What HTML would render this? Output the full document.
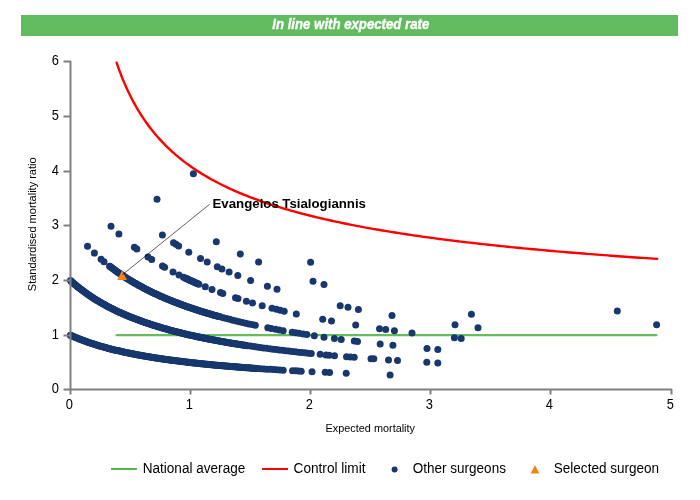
<!DOCTYPE html>
<html><head><meta charset="utf-8"><title>In line with expected rate</title>
<style>
html,body{margin:0;padding:0;background:#fff;}
body{width:700px;height:500px;overflow:hidden;position:relative;font-family:"Liberation Sans",Arial,sans-serif;}
svg{position:absolute;left:0;top:0;display:block;}
text{font-family:"Liberation Sans",Arial,sans-serif;}
</style></head><body>
<svg width="700" height="500" viewBox="0 0 700 500">
<rect x="0" y="0" width="700" height="500" fill="#ffffff"/>
<rect x="21" y="15" width="657" height="21" fill="#62bb5e"/>
<text x="272.3" y="29.3" font-size="14.1" font-weight="bold" font-style="italic" fill="#ffffff" stroke="#ffffff" stroke-width="0.35" textLength="157" lengthAdjust="spacingAndGlyphs">In line with expected rate</text>

<path d="M116.6,335.15 L656.4,335.15" stroke="#66be5b" stroke-width="2.3" stroke-linecap="round" fill="none"/>
<path d="M116.59,62.55 L116.68,62.80 L116.85,63.30 L117.08,63.98 L117.36,64.80 L117.70,65.76 L118.07,66.82 L118.48,67.98 L118.93,69.22 L119.42,70.55 L119.94,71.94 L120.49,73.40 L121.07,74.91 L121.68,76.47 L122.32,78.08 L122.99,79.72 L123.69,81.40 L124.41,83.11 L125.16,84.84 L125.94,86.60 L126.74,88.37 L127.56,90.16 L128.41,91.96 L129.28,93.77 L130.17,95.59 L131.09,97.41 L132.03,99.23 L132.99,101.05 L133.97,102.87 L134.97,104.69 L136.00,106.50 L137.04,108.30 L138.11,110.10 L139.19,111.89 L140.30,113.66 L141.43,115.43 L142.57,117.18 L143.74,118.93 L144.92,120.65 L146.12,122.37 L147.34,124.06 L148.58,125.75 L149.84,127.41 L151.11,129.07 L152.41,130.70 L153.72,132.32 L155.05,133.92 L156.39,135.51 L157.76,137.07 L159.14,138.62 L160.54,140.16 L161.95,141.67 L163.38,143.17 L164.83,144.65 L166.29,146.11 L167.77,147.56 L169.27,148.99 L170.78,150.40 L172.31,151.79 L173.86,153.17 L175.42,154.53 L177.00,155.87 L178.59,157.20 L180.20,158.51 L181.82,159.80 L183.46,161.08 L185.11,162.34 L186.78,163.59 L188.46,164.82 L190.16,166.03 L191.88,167.23 L193.60,168.42 L195.35,169.59 L197.10,170.74 L198.88,171.88 L200.66,173.01 L202.46,174.12 L204.28,175.21 L206.11,176.30 L207.95,177.37 L209.81,178.42 L211.68,179.47 L213.56,180.50 L215.46,181.52 L217.38,182.52 L219.30,183.51 L221.24,184.49 L223.20,185.46 L225.16,186.42 L227.14,187.36 L229.14,188.30 L231.15,189.22 L233.17,190.13 L235.20,191.03 L237.25,191.92 L239.31,192.79 L241.38,193.66 L243.47,194.52 L245.57,195.36 L247.68,196.20 L249.80,197.03 L251.94,197.85 L254.09,198.65 L256.26,199.45 L258.43,200.24 L260.62,201.02 L262.82,201.79 L265.03,202.55 L267.26,203.31 L269.50,204.05 L271.75,204.79 L274.01,205.51 L276.29,206.23 L278.57,206.95 L280.87,207.65 L283.19,208.35 L285.51,209.03 L287.85,209.71 L290.19,210.39 L292.55,211.05 L294.93,211.71 L297.31,212.36 L299.71,213.01 L302.11,213.64 L304.53,214.27 L306.96,214.90 L309.41,215.52 L311.86,216.13 L314.33,216.73 L316.80,217.33 L319.29,217.92 L321.79,218.51 L324.30,219.09 L326.83,219.66 L329.36,220.23 L331.91,220.79 L334.47,221.35 L337.04,221.90 L339.62,222.44 L342.21,222.98 L344.81,223.52 L347.42,224.04 L350.05,224.57 L352.68,225.09 L355.33,225.60 L357.99,226.11 L360.66,226.61 L363.34,227.11 L366.03,227.60 L368.73,228.09 L371.45,228.58 L374.17,229.06 L376.90,229.53 L379.65,230.00 L382.41,230.47 L385.17,230.93 L387.95,231.39 L390.74,231.84 L393.54,232.29 L396.35,232.74 L399.17,233.18 L402.00,233.62 L404.84,234.05 L407.69,234.48 L410.56,234.90 L413.43,235.33 L416.31,235.74 L419.21,236.16 L422.11,236.57 L425.03,236.98 L427.95,237.38 L430.89,237.78 L433.83,238.17 L436.79,238.57 L439.76,238.96 L442.73,239.34 L445.72,239.73 L448.72,240.11 L451.72,240.48 L454.74,240.86 L457.77,241.23 L460.81,241.59 L463.85,241.96 L466.91,242.32 L469.98,242.67 L473.06,243.03 L476.15,243.38 L479.24,243.73 L482.35,244.08 L485.47,244.42 L488.60,244.76 L491.74,245.10 L494.88,245.43 L498.04,245.77 L501.21,246.10 L504.38,246.42 L507.57,246.75 L510.77,247.07 L513.97,247.39 L517.19,247.71 L520.42,248.02 L523.65,248.33 L526.90,248.64 L530.15,248.95 L533.42,249.26 L536.69,249.56 L539.97,249.86 L543.27,250.16 L546.57,250.45 L549.88,250.75 L553.20,251.04 L556.53,251.33 L559.88,251.62 L563.23,251.90 L566.59,252.18 L569.95,252.47 L573.33,252.74 L576.72,253.02 L580.12,253.30 L583.53,253.57 L586.94,253.84 L590.37,254.11 L593.80,254.38 L597.25,254.64 L600.70,254.90 L604.16,255.17 L607.63,255.42 L611.11,255.68 L614.60,255.94 L618.10,256.19 L621.61,256.44 L625.13,256.70 L628.66,256.94 L632.19,257.19 L635.74,257.44 L639.29,257.68 L642.86,257.92 L646.43,258.16 L650.01,258.40 L653.60,258.64 L657.20,258.87" stroke="#ff0000" stroke-width="2.4" fill="none" stroke-linejoin="round" stroke-linecap="round"/>
<g fill="#17376e"><circle cx="70.5" cy="335.23" r="3.5"/><circle cx="70.6" cy="335.28" r="3.5"/><circle cx="71.6" cy="335.73" r="3.5"/><circle cx="72.6" cy="336.17" r="3.5"/><circle cx="73.6" cy="336.61" r="3.5"/><circle cx="74.6" cy="337.04" r="3.5"/><circle cx="75.6" cy="337.46" r="3.5"/><circle cx="76.6" cy="337.87" r="3.5"/><circle cx="77.6" cy="338.28" r="3.5"/><circle cx="78.6" cy="338.68" r="3.5"/><circle cx="79.6" cy="339.08" r="3.5"/><circle cx="80.6" cy="339.47" r="3.5"/><circle cx="81.6" cy="339.85" r="3.5"/><circle cx="82.6" cy="340.23" r="3.5"/><circle cx="83.6" cy="340.61" r="3.5"/><circle cx="84.6" cy="340.97" r="3.5"/><circle cx="85.6" cy="341.33" r="3.5"/><circle cx="86.6" cy="341.69" r="3.5"/><circle cx="87.6" cy="342.04" r="3.5"/><circle cx="88.6" cy="342.39" r="3.5"/><circle cx="89.6" cy="342.73" r="3.5"/><circle cx="90.6" cy="343.07" r="3.5"/><circle cx="91.6" cy="343.40" r="3.5"/><circle cx="92.6" cy="343.72" r="3.5"/><circle cx="93.6" cy="344.05" r="3.5"/><circle cx="94.6" cy="344.36" r="3.5"/><circle cx="95.6" cy="344.68" r="3.5"/><circle cx="96.6" cy="344.99" r="3.5"/><circle cx="97.6" cy="345.29" r="3.5"/><circle cx="98.6" cy="345.59" r="3.5"/><circle cx="99.6" cy="345.89" r="3.5"/><circle cx="100.6" cy="346.18" r="3.5"/><circle cx="101.6" cy="346.47" r="3.5"/><circle cx="102.6" cy="346.76" r="3.5"/><circle cx="103.6" cy="347.04" r="3.5"/><circle cx="104.6" cy="347.31" r="3.5"/><circle cx="105.6" cy="347.59" r="3.5"/><circle cx="106.6" cy="347.86" r="3.5"/><circle cx="107.6" cy="348.13" r="3.5"/><circle cx="108.6" cy="348.39" r="3.5"/><circle cx="109.6" cy="348.65" r="3.5"/><circle cx="110.6" cy="348.91" r="3.5"/><circle cx="111.6" cy="349.16" r="3.5"/><circle cx="112.6" cy="349.41" r="3.5"/><circle cx="113.6" cy="349.66" r="3.5"/><circle cx="114.6" cy="349.91" r="3.5"/><circle cx="115.6" cy="350.15" r="3.5"/><circle cx="116.6" cy="350.39" r="3.5"/><circle cx="117.6" cy="350.62" r="3.5"/><circle cx="118.6" cy="350.86" r="3.5"/><circle cx="119.6" cy="351.09" r="3.5"/><circle cx="120.6" cy="351.32" r="3.5"/><circle cx="121.6" cy="351.54" r="3.5"/><circle cx="122.6" cy="351.76" r="3.5"/><circle cx="123.6" cy="351.98" r="3.5"/><circle cx="124.6" cy="352.20" r="3.5"/><circle cx="125.6" cy="352.42" r="3.5"/><circle cx="126.6" cy="352.63" r="3.5"/><circle cx="127.6" cy="352.84" r="3.5"/><circle cx="128.6" cy="353.05" r="3.5"/><circle cx="129.6" cy="353.25" r="3.5"/><circle cx="130.6" cy="353.46" r="3.5"/><circle cx="131.6" cy="353.66" r="3.5"/><circle cx="132.6" cy="353.86" r="3.5"/><circle cx="133.6" cy="354.05" r="3.5"/><circle cx="134.6" cy="354.25" r="3.5"/><circle cx="135.6" cy="354.44" r="3.5"/><circle cx="136.6" cy="354.63" r="3.5"/><circle cx="137.6" cy="354.82" r="3.5"/><circle cx="138.6" cy="355.00" r="3.5"/><circle cx="139.6" cy="355.19" r="3.5"/><circle cx="140.6" cy="355.37" r="3.5"/><circle cx="141.6" cy="355.55" r="3.5"/><circle cx="142.6" cy="355.73" r="3.5"/><circle cx="143.6" cy="355.91" r="3.5"/><circle cx="144.6" cy="356.08" r="3.5"/><circle cx="145.6" cy="356.25" r="3.5"/><circle cx="146.6" cy="356.43" r="3.5"/><circle cx="147.6" cy="356.60" r="3.5"/><circle cx="148.6" cy="356.76" r="3.5"/><circle cx="149.6" cy="356.93" r="3.5"/><circle cx="150.6" cy="357.09" r="3.5"/><circle cx="151.6" cy="357.26" r="3.5"/><circle cx="152.6" cy="357.42" r="3.5"/><circle cx="153.6" cy="357.58" r="3.5"/><circle cx="154.6" cy="357.74" r="3.5"/><circle cx="155.6" cy="357.89" r="3.5"/><circle cx="156.6" cy="358.05" r="3.5"/><circle cx="157.6" cy="358.20" r="3.5"/><circle cx="158.6" cy="358.35" r="3.5"/><circle cx="159.6" cy="358.51" r="3.5"/><circle cx="160.6" cy="358.65" r="3.5"/><circle cx="161.6" cy="358.80" r="3.5"/><circle cx="162.6" cy="358.95" r="3.5"/><circle cx="163.6" cy="359.09" r="3.5"/><circle cx="164.6" cy="359.24" r="3.5"/><circle cx="165.6" cy="359.38" r="3.5"/><circle cx="166.6" cy="359.52" r="3.5"/><circle cx="167.6" cy="359.66" r="3.5"/><circle cx="168.6" cy="359.80" r="3.5"/><circle cx="169.6" cy="359.94" r="3.5"/><circle cx="170.6" cy="360.07" r="3.5"/><circle cx="171.6" cy="360.21" r="3.5"/><circle cx="172.6" cy="360.34" r="3.5"/><circle cx="173.6" cy="360.47" r="3.5"/><circle cx="174.6" cy="360.60" r="3.5"/><circle cx="175.6" cy="360.73" r="3.5"/><circle cx="176.6" cy="360.86" r="3.5"/><circle cx="177.6" cy="360.99" r="3.5"/><circle cx="178.6" cy="361.12" r="3.5"/><circle cx="179.6" cy="361.24" r="3.5"/><circle cx="180.6" cy="361.37" r="3.5"/><circle cx="181.6" cy="361.49" r="3.5"/><circle cx="182.6" cy="361.61" r="3.5"/><circle cx="183.6" cy="361.73" r="3.5"/><circle cx="184.6" cy="361.86" r="3.5"/><circle cx="185.6" cy="361.97" r="3.5"/><circle cx="186.6" cy="362.09" r="3.5"/><circle cx="187.6" cy="362.21" r="3.5"/><circle cx="188.6" cy="362.33" r="3.5"/><circle cx="189.6" cy="362.44" r="3.5"/><circle cx="190.6" cy="362.56" r="3.5"/><circle cx="191.6" cy="362.67" r="3.5"/><circle cx="192.6" cy="362.78" r="3.5"/><circle cx="193.6" cy="362.89" r="3.5"/><circle cx="194.6" cy="363.00" r="3.5"/><circle cx="195.6" cy="363.11" r="3.5"/><circle cx="196.6" cy="363.22" r="3.5"/><circle cx="197.6" cy="363.33" r="3.5"/><circle cx="198.6" cy="363.44" r="3.5"/><circle cx="199.6" cy="363.54" r="3.5"/><circle cx="200.6" cy="363.65" r="3.5"/><circle cx="201.6" cy="363.75" r="3.5"/><circle cx="202.6" cy="363.86" r="3.5"/><circle cx="203.6" cy="363.96" r="3.5"/><circle cx="204.6" cy="364.06" r="3.5"/><circle cx="205.6" cy="364.16" r="3.5"/><circle cx="206.6" cy="364.26" r="3.5"/><circle cx="207.6" cy="364.36" r="3.5"/><circle cx="208.6" cy="364.46" r="3.5"/><circle cx="209.6" cy="364.56" r="3.5"/><circle cx="210.6" cy="364.66" r="3.5"/><circle cx="211.6" cy="364.75" r="3.5"/><circle cx="212.6" cy="364.85" r="3.5"/><circle cx="213.6" cy="364.94" r="3.5"/><circle cx="214.6" cy="365.04" r="3.5"/><circle cx="215.6" cy="365.13" r="3.5"/><circle cx="216.6" cy="365.23" r="3.5"/><circle cx="217.6" cy="365.32" r="3.5"/><circle cx="218.6" cy="365.41" r="3.5"/><circle cx="219.6" cy="365.50" r="3.5"/><circle cx="220.6" cy="365.59" r="3.5"/><circle cx="221.6" cy="365.68" r="3.5"/><circle cx="222.6" cy="365.77" r="3.5"/><circle cx="223.6" cy="365.86" r="3.5"/><circle cx="224.6" cy="365.94" r="3.5"/><circle cx="225.6" cy="366.03" r="3.5"/><circle cx="226.6" cy="366.12" r="3.5"/><circle cx="227.6" cy="366.20" r="3.5"/><circle cx="228.6" cy="366.29" r="3.5"/><circle cx="229.6" cy="366.37" r="3.5"/><circle cx="230.6" cy="366.46" r="3.5"/><circle cx="231.6" cy="366.54" r="3.5"/><circle cx="232.6" cy="366.62" r="3.5"/><circle cx="233.6" cy="366.71" r="3.5"/><circle cx="234.6" cy="366.79" r="3.5"/><circle cx="235.6" cy="366.87" r="3.5"/><circle cx="236.6" cy="366.95" r="3.5"/><circle cx="237.6" cy="367.03" r="3.5"/><circle cx="238.6" cy="367.11" r="3.5"/><circle cx="239.6" cy="367.19" r="3.5"/><circle cx="240.6" cy="367.27" r="3.5"/><circle cx="241.6" cy="367.34" r="3.5"/><circle cx="242.6" cy="367.42" r="3.5"/><circle cx="243.6" cy="367.50" r="3.5"/><circle cx="244.6" cy="367.57" r="3.5"/><circle cx="245.6" cy="367.65" r="3.5"/><circle cx="246.6" cy="367.72" r="3.5"/><circle cx="247.6" cy="367.80" r="3.5"/><circle cx="248.6" cy="367.87" r="3.5"/><circle cx="249.6" cy="367.95" r="3.5"/><circle cx="250.6" cy="368.02" r="3.5"/><circle cx="251.6" cy="368.09" r="3.5"/><circle cx="252.6" cy="368.16" r="3.5"/><circle cx="253.6" cy="368.24" r="3.5"/><circle cx="254.6" cy="368.31" r="3.5"/><circle cx="255.6" cy="368.38" r="3.5"/><circle cx="256.6" cy="368.45" r="3.5"/><circle cx="257.6" cy="368.52" r="3.5"/><circle cx="260.8" cy="368.74" r="3.5"/><circle cx="264.0" cy="368.95" r="3.5"/><circle cx="267.2" cy="369.16" r="3.5"/><circle cx="270.4" cy="369.37" r="3.5"/><circle cx="273.6" cy="369.58" r="3.5"/><circle cx="276.8" cy="369.77" r="3.5"/><circle cx="280.0" cy="369.97" r="3.5"/><circle cx="283.2" cy="370.16" r="3.5"/><circle cx="292.5" cy="370.70" r="3.5"/><circle cx="295.5" cy="370.86" r="3.5"/><circle cx="298.3" cy="371.02" r="3.5"/><circle cx="301.2" cy="371.17" r="3.5"/><circle cx="312.0" cy="371.73" r="3.5"/><circle cx="325.2" cy="372.37" r="3.5"/><circle cx="329.6" cy="372.58" r="3.5"/><circle cx="346.2" cy="373.30" r="3.5"/><circle cx="390.1" cy="374.96" r="3.5"/><circle cx="70.5" cy="280.57" r="3.5"/><circle cx="71.3" cy="281.29" r="3.5"/><circle cx="72.3" cy="282.18" r="3.5"/><circle cx="73.3" cy="283.06" r="3.5"/><circle cx="74.3" cy="283.92" r="3.5"/><circle cx="75.3" cy="284.77" r="3.5"/><circle cx="76.3" cy="285.60" r="3.5"/><circle cx="77.3" cy="286.42" r="3.5"/><circle cx="78.3" cy="287.23" r="3.5"/><circle cx="79.3" cy="288.03" r="3.5"/><circle cx="80.3" cy="288.81" r="3.5"/><circle cx="81.3" cy="289.58" r="3.5"/><circle cx="82.3" cy="290.34" r="3.5"/><circle cx="83.3" cy="291.09" r="3.5"/><circle cx="84.3" cy="291.83" r="3.5"/><circle cx="85.3" cy="292.55" r="3.5"/><circle cx="86.3" cy="293.27" r="3.5"/><circle cx="87.3" cy="293.97" r="3.5"/><circle cx="88.3" cy="294.67" r="3.5"/><circle cx="89.3" cy="295.35" r="3.5"/><circle cx="90.3" cy="296.03" r="3.5"/><circle cx="91.3" cy="296.70" r="3.5"/><circle cx="92.3" cy="297.35" r="3.5"/><circle cx="93.3" cy="298.00" r="3.5"/><circle cx="94.3" cy="298.64" r="3.5"/><circle cx="95.3" cy="299.27" r="3.5"/><circle cx="96.3" cy="299.89" r="3.5"/><circle cx="97.3" cy="300.50" r="3.5"/><circle cx="98.3" cy="301.10" r="3.5"/><circle cx="99.3" cy="301.70" r="3.5"/><circle cx="100.3" cy="302.29" r="3.5"/><circle cx="101.3" cy="302.87" r="3.5"/><circle cx="102.3" cy="303.44" r="3.5"/><circle cx="103.3" cy="304.01" r="3.5"/><circle cx="104.3" cy="304.56" r="3.5"/><circle cx="105.3" cy="305.11" r="3.5"/><circle cx="106.3" cy="305.66" r="3.5"/><circle cx="107.3" cy="306.19" r="3.5"/><circle cx="108.3" cy="306.72" r="3.5"/><circle cx="109.3" cy="307.25" r="3.5"/><circle cx="110.3" cy="307.76" r="3.5"/><circle cx="111.3" cy="308.27" r="3.5"/><circle cx="112.3" cy="308.78" r="3.5"/><circle cx="113.3" cy="309.28" r="3.5"/><circle cx="114.3" cy="309.77" r="3.5"/><circle cx="115.3" cy="310.25" r="3.5"/><circle cx="116.3" cy="310.73" r="3.5"/><circle cx="117.3" cy="311.21" r="3.5"/><circle cx="118.3" cy="311.67" r="3.5"/><circle cx="119.3" cy="312.14" r="3.5"/><circle cx="120.3" cy="312.59" r="3.5"/><circle cx="121.3" cy="313.05" r="3.5"/><circle cx="122.3" cy="313.49" r="3.5"/><circle cx="123.3" cy="313.94" r="3.5"/><circle cx="124.3" cy="314.37" r="3.5"/><circle cx="125.3" cy="314.80" r="3.5"/><circle cx="126.3" cy="315.23" r="3.5"/><circle cx="127.3" cy="315.65" r="3.5"/><circle cx="128.3" cy="316.07" r="3.5"/><circle cx="129.3" cy="316.48" r="3.5"/><circle cx="130.3" cy="316.89" r="3.5"/><circle cx="131.3" cy="317.29" r="3.5"/><circle cx="132.3" cy="317.69" r="3.5"/><circle cx="133.3" cy="318.09" r="3.5"/><circle cx="134.3" cy="318.48" r="3.5"/><circle cx="135.3" cy="318.86" r="3.5"/><circle cx="136.3" cy="319.24" r="3.5"/><circle cx="137.3" cy="319.62" r="3.5"/><circle cx="138.3" cy="320.00" r="3.5"/><circle cx="139.3" cy="320.37" r="3.5"/><circle cx="140.3" cy="320.73" r="3.5"/><circle cx="141.3" cy="321.09" r="3.5"/><circle cx="142.3" cy="321.45" r="3.5"/><circle cx="143.3" cy="321.81" r="3.5"/><circle cx="144.3" cy="322.16" r="3.5"/><circle cx="145.3" cy="322.51" r="3.5"/><circle cx="146.3" cy="322.85" r="3.5"/><circle cx="147.3" cy="323.19" r="3.5"/><circle cx="148.3" cy="323.53" r="3.5"/><circle cx="149.3" cy="323.86" r="3.5"/><circle cx="150.3" cy="324.19" r="3.5"/><circle cx="151.3" cy="324.52" r="3.5"/><circle cx="152.3" cy="324.84" r="3.5"/><circle cx="153.3" cy="325.16" r="3.5"/><circle cx="154.3" cy="325.48" r="3.5"/><circle cx="155.3" cy="325.79" r="3.5"/><circle cx="156.3" cy="326.10" r="3.5"/><circle cx="157.3" cy="326.41" r="3.5"/><circle cx="158.3" cy="326.72" r="3.5"/><circle cx="159.3" cy="327.02" r="3.5"/><circle cx="160.3" cy="327.32" r="3.5"/><circle cx="161.3" cy="327.62" r="3.5"/><circle cx="162.3" cy="327.91" r="3.5"/><circle cx="163.3" cy="328.20" r="3.5"/><circle cx="164.3" cy="328.49" r="3.5"/><circle cx="165.3" cy="328.78" r="3.5"/><circle cx="166.3" cy="329.06" r="3.5"/><circle cx="167.3" cy="329.34" r="3.5"/><circle cx="168.3" cy="329.62" r="3.5"/><circle cx="169.3" cy="329.89" r="3.5"/><circle cx="170.3" cy="330.16" r="3.5"/><circle cx="171.3" cy="330.43" r="3.5"/><circle cx="172.3" cy="330.70" r="3.5"/><circle cx="173.3" cy="330.97" r="3.5"/><circle cx="174.3" cy="331.23" r="3.5"/><circle cx="175.3" cy="331.49" r="3.5"/><circle cx="176.3" cy="331.75" r="3.5"/><circle cx="177.3" cy="332.01" r="3.5"/><circle cx="178.3" cy="332.26" r="3.5"/><circle cx="179.3" cy="332.51" r="3.5"/><circle cx="180.3" cy="332.76" r="3.5"/><circle cx="181.3" cy="333.01" r="3.5"/><circle cx="182.3" cy="333.25" r="3.5"/><circle cx="183.3" cy="333.50" r="3.5"/><circle cx="184.3" cy="333.74" r="3.5"/><circle cx="185.3" cy="333.98" r="3.5"/><circle cx="186.3" cy="334.21" r="3.5"/><circle cx="187.3" cy="334.45" r="3.5"/><circle cx="188.3" cy="334.68" r="3.5"/><circle cx="189.3" cy="334.91" r="3.5"/><circle cx="190.3" cy="335.14" r="3.5"/><circle cx="191.3" cy="335.37" r="3.5"/><circle cx="192.3" cy="335.59" r="3.5"/><circle cx="193.3" cy="335.82" r="3.5"/><circle cx="194.3" cy="336.04" r="3.5"/><circle cx="195.3" cy="336.26" r="3.5"/><circle cx="196.3" cy="336.48" r="3.5"/><circle cx="197.3" cy="336.69" r="3.5"/><circle cx="198.3" cy="336.91" r="3.5"/><circle cx="199.3" cy="337.12" r="3.5"/><circle cx="200.3" cy="337.33" r="3.5"/><circle cx="201.3" cy="337.54" r="3.5"/><circle cx="202.3" cy="337.75" r="3.5"/><circle cx="203.3" cy="337.96" r="3.5"/><circle cx="204.3" cy="338.16" r="3.5"/><circle cx="205.3" cy="338.36" r="3.5"/><circle cx="206.3" cy="338.56" r="3.5"/><circle cx="207.3" cy="338.76" r="3.5"/><circle cx="208.3" cy="338.96" r="3.5"/><circle cx="209.3" cy="339.16" r="3.5"/><circle cx="210.3" cy="339.35" r="3.5"/><circle cx="211.3" cy="339.55" r="3.5"/><circle cx="212.3" cy="339.74" r="3.5"/><circle cx="213.3" cy="339.93" r="3.5"/><circle cx="214.3" cy="340.12" r="3.5"/><circle cx="215.3" cy="340.31" r="3.5"/><circle cx="216.3" cy="340.49" r="3.5"/><circle cx="217.3" cy="340.68" r="3.5"/><circle cx="218.3" cy="340.86" r="3.5"/><circle cx="219.3" cy="341.05" r="3.5"/><circle cx="220.3" cy="341.23" r="3.5"/><circle cx="221.3" cy="341.41" r="3.5"/><circle cx="222.3" cy="341.58" r="3.5"/><circle cx="223.3" cy="341.76" r="3.5"/><circle cx="224.3" cy="341.94" r="3.5"/><circle cx="225.3" cy="342.11" r="3.5"/><circle cx="226.3" cy="342.28" r="3.5"/><circle cx="227.3" cy="342.46" r="3.5"/><circle cx="228.3" cy="342.63" r="3.5"/><circle cx="229.3" cy="342.80" r="3.5"/><circle cx="230.3" cy="342.96" r="3.5"/><circle cx="231.3" cy="343.13" r="3.5"/><circle cx="232.3" cy="343.30" r="3.5"/><circle cx="233.3" cy="343.46" r="3.5"/><circle cx="234.3" cy="343.63" r="3.5"/><circle cx="235.3" cy="343.79" r="3.5"/><circle cx="236.3" cy="343.95" r="3.5"/><circle cx="237.3" cy="344.11" r="3.5"/><circle cx="238.3" cy="344.27" r="3.5"/><circle cx="239.3" cy="344.43" r="3.5"/><circle cx="240.3" cy="344.58" r="3.5"/><circle cx="241.3" cy="344.74" r="3.5"/><circle cx="242.3" cy="344.89" r="3.5"/><circle cx="243.3" cy="345.05" r="3.5"/><circle cx="244.3" cy="345.20" r="3.5"/><circle cx="245.3" cy="345.35" r="3.5"/><circle cx="246.3" cy="345.50" r="3.5"/><circle cx="247.3" cy="345.65" r="3.5"/><circle cx="250.5" cy="346.12" r="3.5"/><circle cx="253.7" cy="346.58" r="3.5"/><circle cx="256.9" cy="347.04" r="3.5"/><circle cx="260.1" cy="347.48" r="3.5"/><circle cx="263.3" cy="347.91" r="3.5"/><circle cx="266.5" cy="348.34" r="3.5"/><circle cx="269.7" cy="348.75" r="3.5"/><circle cx="272.9" cy="349.16" r="3.5"/><circle cx="276.1" cy="349.56" r="3.5"/><circle cx="279.3" cy="349.96" r="3.5"/><circle cx="282.5" cy="350.34" r="3.5"/><circle cx="285.7" cy="350.72" r="3.5"/><circle cx="288.9" cy="351.09" r="3.5"/><circle cx="292.1" cy="351.45" r="3.5"/><circle cx="295.3" cy="351.81" r="3.5"/><circle cx="298.5" cy="352.16" r="3.5"/><circle cx="301.7" cy="352.50" r="3.5"/><circle cx="304.9" cy="352.84" r="3.5"/><circle cx="308.1" cy="353.17" r="3.5"/><circle cx="311.3" cy="353.50" r="3.5"/><circle cx="320.2" cy="354.37" r="3.5"/><circle cx="326.0" cy="354.92" r="3.5"/><circle cx="329.2" cy="355.22" r="3.5"/><circle cx="334.5" cy="355.69" r="3.5"/><circle cx="346.5" cy="356.73" r="3.5"/><circle cx="350.3" cy="357.05" r="3.5"/><circle cx="354.2" cy="357.36" r="3.5"/><circle cx="371.0" cy="358.66" r="3.5"/><circle cx="373.8" cy="358.87" r="3.5"/><circle cx="388.5" cy="359.91" r="3.5"/><circle cx="397.5" cy="360.51" r="3.5"/><circle cx="426.8" cy="362.32" r="3.5"/><circle cx="437.8" cy="362.94" r="3.5"/><circle cx="87.5" cy="246.22" r="3.5"/><circle cx="94.4" cy="253.10" r="3.5"/><circle cx="101.1" cy="259.18" r="3.5"/><circle cx="104.0" cy="261.64" r="3.5"/><circle cx="109.6" cy="266.15" r="3.5"/><circle cx="110.1" cy="266.54" r="3.5"/><circle cx="111.1" cy="267.31" r="3.5"/><circle cx="112.1" cy="268.07" r="3.5"/><circle cx="113.1" cy="268.81" r="3.5"/><circle cx="114.1" cy="269.55" r="3.5"/><circle cx="115.1" cy="270.28" r="3.5"/><circle cx="116.1" cy="271.00" r="3.5"/><circle cx="117.1" cy="271.72" r="3.5"/><circle cx="118.1" cy="272.42" r="3.5"/><circle cx="119.1" cy="273.12" r="3.5"/><circle cx="120.1" cy="273.81" r="3.5"/><circle cx="121.1" cy="274.49" r="3.5"/><circle cx="122.1" cy="275.16" r="3.5"/><circle cx="123.1" cy="275.82" r="3.5"/><circle cx="124.1" cy="276.48" r="3.5"/><circle cx="125.1" cy="277.13" r="3.5"/><circle cx="126.1" cy="277.77" r="3.5"/><circle cx="127.1" cy="278.40" r="3.5"/><circle cx="128.1" cy="279.03" r="3.5"/><circle cx="129.1" cy="279.65" r="3.5"/><circle cx="130.1" cy="280.26" r="3.5"/><circle cx="131.1" cy="280.87" r="3.5"/><circle cx="132.1" cy="281.47" r="3.5"/><circle cx="133.1" cy="282.06" r="3.5"/><circle cx="134.1" cy="282.65" r="3.5"/><circle cx="135.1" cy="283.23" r="3.5"/><circle cx="136.1" cy="283.80" r="3.5"/><circle cx="137.1" cy="284.37" r="3.5"/><circle cx="138.1" cy="284.93" r="3.5"/><circle cx="139.1" cy="285.49" r="3.5"/><circle cx="140.1" cy="286.04" r="3.5"/><circle cx="141.1" cy="286.58" r="3.5"/><circle cx="142.1" cy="287.12" r="3.5"/><circle cx="143.1" cy="287.66" r="3.5"/><circle cx="144.1" cy="288.18" r="3.5"/><circle cx="145.1" cy="288.70" r="3.5"/><circle cx="146.1" cy="289.22" r="3.5"/><circle cx="147.1" cy="289.73" r="3.5"/><circle cx="148.1" cy="290.24" r="3.5"/><circle cx="149.1" cy="290.74" r="3.5"/><circle cx="150.1" cy="291.24" r="3.5"/><circle cx="151.1" cy="291.73" r="3.5"/><circle cx="152.1" cy="292.22" r="3.5"/><circle cx="153.1" cy="292.70" r="3.5"/><circle cx="154.1" cy="293.17" r="3.5"/><circle cx="155.1" cy="293.65" r="3.5"/><circle cx="156.1" cy="294.11" r="3.5"/><circle cx="157.1" cy="294.58" r="3.5"/><circle cx="158.1" cy="295.04" r="3.5"/><circle cx="159.1" cy="295.49" r="3.5"/><circle cx="160.1" cy="295.94" r="3.5"/><circle cx="161.1" cy="296.39" r="3.5"/><circle cx="162.1" cy="296.83" r="3.5"/><circle cx="163.1" cy="297.26" r="3.5"/><circle cx="164.1" cy="297.70" r="3.5"/><circle cx="165.1" cy="298.13" r="3.5"/><circle cx="166.1" cy="298.55" r="3.5"/><circle cx="167.1" cy="298.97" r="3.5"/><circle cx="168.1" cy="299.39" r="3.5"/><circle cx="169.1" cy="299.80" r="3.5"/><circle cx="170.1" cy="300.21" r="3.5"/><circle cx="171.1" cy="300.62" r="3.5"/><circle cx="172.1" cy="301.02" r="3.5"/><circle cx="173.1" cy="301.42" r="3.5"/><circle cx="174.1" cy="301.82" r="3.5"/><circle cx="175.1" cy="302.21" r="3.5"/><circle cx="176.1" cy="302.60" r="3.5"/><circle cx="177.1" cy="302.98" r="3.5"/><circle cx="178.1" cy="303.36" r="3.5"/><circle cx="179.1" cy="303.74" r="3.5"/><circle cx="180.1" cy="304.12" r="3.5"/><circle cx="181.1" cy="304.49" r="3.5"/><circle cx="182.1" cy="304.86" r="3.5"/><circle cx="183.1" cy="305.22" r="3.5"/><circle cx="184.1" cy="305.59" r="3.5"/><circle cx="185.1" cy="305.94" r="3.5"/><circle cx="186.1" cy="306.30" r="3.5"/><circle cx="187.1" cy="306.65" r="3.5"/><circle cx="188.1" cy="307.00" r="3.5"/><circle cx="189.1" cy="307.35" r="3.5"/><circle cx="190.1" cy="307.69" r="3.5"/><circle cx="191.1" cy="308.04" r="3.5"/><circle cx="192.1" cy="308.37" r="3.5"/><circle cx="193.1" cy="308.71" r="3.5"/><circle cx="194.1" cy="309.04" r="3.5"/><circle cx="195.1" cy="309.37" r="3.5"/><circle cx="196.1" cy="309.70" r="3.5"/><circle cx="197.1" cy="310.03" r="3.5"/><circle cx="198.1" cy="310.35" r="3.5"/><circle cx="199.1" cy="310.67" r="3.5"/><circle cx="200.1" cy="310.99" r="3.5"/><circle cx="201.1" cy="311.30" r="3.5"/><circle cx="202.1" cy="311.61" r="3.5"/><circle cx="203.1" cy="311.92" r="3.5"/><circle cx="204.1" cy="312.23" r="3.5"/><circle cx="205.1" cy="312.53" r="3.5"/><circle cx="206.1" cy="312.84" r="3.5"/><circle cx="207.1" cy="313.14" r="3.5"/><circle cx="208.1" cy="313.43" r="3.5"/><circle cx="209.1" cy="313.73" r="3.5"/><circle cx="210.1" cy="314.02" r="3.5"/><circle cx="211.1" cy="314.31" r="3.5"/><circle cx="212.1" cy="314.60" r="3.5"/><circle cx="213.1" cy="314.89" r="3.5"/><circle cx="214.1" cy="315.17" r="3.5"/><circle cx="215.1" cy="315.46" r="3.5"/><circle cx="216.1" cy="315.74" r="3.5"/><circle cx="217.1" cy="316.01" r="3.5"/><circle cx="218.1" cy="316.29" r="3.5"/><circle cx="219.1" cy="316.56" r="3.5"/><circle cx="220.1" cy="316.84" r="3.5"/><circle cx="223.3" cy="317.69" r="3.5"/><circle cx="226.5" cy="318.53" r="3.5"/><circle cx="229.7" cy="319.35" r="3.5"/><circle cx="232.9" cy="320.14" r="3.5"/><circle cx="236.1" cy="320.93" r="3.5"/><circle cx="239.3" cy="321.69" r="3.5"/><circle cx="242.5" cy="322.44" r="3.5"/><circle cx="245.7" cy="323.17" r="3.5"/><circle cx="248.9" cy="323.88" r="3.5"/><circle cx="252.1" cy="324.58" r="3.5"/><circle cx="255.3" cy="325.27" r="3.5"/><circle cx="267.8" cy="327.81" r="3.5"/><circle cx="271.2" cy="328.47" r="3.5"/><circle cx="275.5" cy="329.28" r="3.5"/><circle cx="279.2" cy="329.96" r="3.5"/><circle cx="283.2" cy="330.68" r="3.5"/><circle cx="292.2" cy="332.24" r="3.5"/><circle cx="295.6" cy="332.81" r="3.5"/><circle cx="299.0" cy="333.37" r="3.5"/><circle cx="303.0" cy="334.01" r="3.5"/><circle cx="306.8" cy="334.60" r="3.5"/><circle cx="314.3" cy="335.74" r="3.5"/><circle cx="324.0" cy="337.15" r="3.5"/><circle cx="334.4" cy="338.58" r="3.5"/><circle cx="341.2" cy="339.47" r="3.5"/><circle cx="354.3" cy="341.11" r="3.5"/><circle cx="357.5" cy="341.49" r="3.5"/><circle cx="380.2" cy="344.05" r="3.5"/><circle cx="392.9" cy="345.36" r="3.5"/><circle cx="427.0" cy="348.55" r="3.5"/><circle cx="437.8" cy="349.46" r="3.5"/><circle cx="111.0" cy="226.34" r="3.5"/><circle cx="118.9" cy="234.01" r="3.5"/><circle cx="134.4" cy="247.13" r="3.5"/><circle cx="136.8" cy="248.97" r="3.5"/><circle cx="148.0" cy="256.95" r="3.5"/><circle cx="151.7" cy="259.39" r="3.5"/><circle cx="162.5" cy="266.04" r="3.5"/><circle cx="164.6" cy="267.25" r="3.5"/><circle cx="173.0" cy="271.88" r="3.5"/><circle cx="179.0" cy="274.97" r="3.5"/><circle cx="183.5" cy="277.19" r="3.5"/><circle cx="185.5" cy="278.15" r="3.5"/><circle cx="185.9" cy="278.34" r="3.5"/><circle cx="186.9" cy="278.81" r="3.5"/><circle cx="187.9" cy="279.28" r="3.5"/><circle cx="188.9" cy="279.74" r="3.5"/><circle cx="189.9" cy="280.20" r="3.5"/><circle cx="190.9" cy="280.66" r="3.5"/><circle cx="191.9" cy="281.11" r="3.5"/><circle cx="192.9" cy="281.56" r="3.5"/><circle cx="193.9" cy="282.00" r="3.5"/><circle cx="194.9" cy="282.44" r="3.5"/><circle cx="195.9" cy="282.88" r="3.5"/><circle cx="196.9" cy="283.32" r="3.5"/><circle cx="197.9" cy="283.75" r="3.5"/><circle cx="198.9" cy="284.17" r="3.5"/><circle cx="205.3" cy="286.83" r="3.5"/><circle cx="212.0" cy="289.47" r="3.5"/><circle cx="220.5" cy="292.62" r="3.5"/><circle cx="222.8" cy="293.45" r="3.5"/><circle cx="235.5" cy="297.74" r="3.5"/><circle cx="238.0" cy="298.54" r="3.5"/><circle cx="246.4" cy="301.13" r="3.5"/><circle cx="252.6" cy="302.95" r="3.5"/><circle cx="262.2" cy="305.63" r="3.5"/><circle cx="272.0" cy="308.20" r="3.5"/><circle cx="276.5" cy="309.32" r="3.5"/><circle cx="280.2" cy="310.23" r="3.5"/><circle cx="284.2" cy="311.18" r="3.5"/><circle cx="296.3" cy="313.94" r="3.5"/><circle cx="322.7" cy="319.32" r="3.5"/><circle cx="331.5" cy="320.95" r="3.5"/><circle cx="355.7" cy="325.07" r="3.5"/><circle cx="379.5" cy="328.66" r="3.5"/><circle cx="385.7" cy="329.53" r="3.5"/><circle cx="394.4" cy="330.72" r="3.5"/><circle cx="412.0" cy="332.97" r="3.5"/><circle cx="454.4" cy="337.76" r="3.5"/><circle cx="461.2" cy="338.45" r="3.5"/><circle cx="162.4" cy="235.00" r="3.5"/><circle cx="173.5" cy="242.70" r="3.5"/><circle cx="176.0" cy="244.33" r="3.5"/><circle cx="178.6" cy="245.99" r="3.5"/><circle cx="188.8" cy="252.14" r="3.5"/><circle cx="200.5" cy="258.59" r="3.5"/><circle cx="207.2" cy="262.01" r="3.5"/><circle cx="217.3" cy="266.85" r="3.5"/><circle cx="221.9" cy="268.93" r="3.5"/><circle cx="229.1" cy="272.06" r="3.5"/><circle cx="237.8" cy="275.62" r="3.5"/><circle cx="250.6" cy="280.49" r="3.5"/><circle cx="267.4" cy="286.29" r="3.5"/><circle cx="277.0" cy="289.33" r="3.5"/><circle cx="340.2" cy="305.64" r="3.5"/><circle cx="348.0" cy="307.29" r="3.5"/><circle cx="358.4" cy="309.39" r="3.5"/><circle cx="392.0" cy="315.52" r="3.5"/><circle cx="455.0" cy="324.80" r="3.5"/><circle cx="478.0" cy="327.64" r="3.5"/><circle cx="157.0" cy="199.16" r="3.5"/><circle cx="216.3" cy="241.68" r="3.5"/><circle cx="240.3" cy="253.95" r="3.5"/><circle cx="258.6" cy="262.02" r="3.5"/><circle cx="313.0" cy="281.20" r="3.5"/><circle cx="324.0" cy="284.40" r="3.5"/><circle cx="471.4" cy="314.24" r="3.5"/><circle cx="310.6" cy="262.24" r="3.5"/><circle cx="656.6" cy="324.78" r="3.5"/><circle cx="193.4" cy="173.66" r="3.5"/><circle cx="617.3" cy="311.09" r="3.5"/></g>
<g stroke="#808080" stroke-width="2" fill="none">
<path d="M63.5,61.5 L70.5,61.5 L70.5,394.5" stroke-linejoin="round"/>
<path d="M63.5,389.5 L671.5,389.5 L671.5,394.5" stroke-linejoin="round"/>
<path d="M63.5,335.5 L70.5,335.5"/>
<path d="M63.5,280.5 L70.5,280.5"/>
<path d="M63.5,225.5 L70.5,225.5"/>
<path d="M63.5,171.5 L70.5,171.5"/>
<path d="M63.5,116.5 L70.5,116.5"/>
<path d="M190.5,389.5 L190.5,394.5"/>
<path d="M310.5,389.5 L310.5,394.5"/>
<path d="M430.5,389.5 L430.5,394.5"/>
<path d="M550.5,389.5 L550.5,394.5"/>
</g>
<g>
<text transform="translate(59.00,392.60) scale(0.870,1)" text-anchor="end" font-size="14.8" fill="#000000" >0</text>
<text transform="translate(59.00,338.60) scale(0.870,1)" text-anchor="end" font-size="14.8" fill="#000000" >1</text>
<text transform="translate(59.00,283.60) scale(0.870,1)" text-anchor="end" font-size="14.8" fill="#000000" >2</text>
<text transform="translate(59.00,228.60) scale(0.870,1)" text-anchor="end" font-size="14.8" fill="#000000" >3</text>
<text transform="translate(59.00,174.60) scale(0.870,1)" text-anchor="end" font-size="14.8" fill="#000000" >4</text>
<text transform="translate(59.00,119.60) scale(0.870,1)" text-anchor="end" font-size="14.8" fill="#000000" >5</text>
<text transform="translate(59.00,64.60) scale(0.870,1)" text-anchor="end" font-size="14.8" fill="#000000" >6</text>
<text transform="translate(69.30,408.90) scale(0.870,1)" text-anchor="middle" font-size="14.8" fill="#000000" >0</text>
<text transform="translate(189.30,408.90) scale(0.870,1)" text-anchor="middle" font-size="14.8" fill="#000000" >1</text>
<text transform="translate(309.30,408.90) scale(0.870,1)" text-anchor="middle" font-size="14.8" fill="#000000" >2</text>
<text transform="translate(429.30,408.90) scale(0.870,1)" text-anchor="middle" font-size="14.8" fill="#000000" >3</text>
<text transform="translate(549.30,408.90) scale(0.870,1)" text-anchor="middle" font-size="14.8" fill="#000000" >4</text>
<text transform="translate(670.30,408.90) scale(0.870,1)" text-anchor="middle" font-size="14.8" fill="#000000" >5</text>
</g>
<text x="325.6" y="432" font-size="11.8" fill="#000000" textLength="89.4" lengthAdjust="spacingAndGlyphs">Expected mortality</text>
<text transform="translate(36.0,291.2) rotate(-90)" font-size="11.8" fill="#000000" textLength="133.8" lengthAdjust="spacingAndGlyphs">Standardised mortality ratio</text>
<path d="M122.1,270.5 L127.0,280.0 L117.2,280.0 z" fill="#f5831a"/>
<path d="M122.4,274.7 L209.7,204.2" stroke="#000000" stroke-opacity="0.7" stroke-width="0.9" fill="none"/>
<text y="207.6" font-size="13.7" font-weight="bold" fill="#000000"><tspan x="212.4" textLength="70.2" lengthAdjust="spacingAndGlyphs">Evangelos </tspan><tspan x="282.3" textLength="83.7" lengthAdjust="spacingAndGlyphs">Tsialogiannis</tspan></text>
<g font-size="14.0" fill="#000000">
<path d="M111,469 L137,469" stroke="#52b74a" stroke-width="2" fill="none"/>
<text x="142.7" y="473.1" textLength="102.6" lengthAdjust="spacingAndGlyphs">National average</text>
<path d="M262,469 L288,469" stroke="#ff0000" stroke-width="2" fill="none"/>
<text x="293.6" y="473.1" textLength="71.9" lengthAdjust="spacingAndGlyphs">Control limit</text>
<circle cx="394.6" cy="469.5" r="3.0" fill="#17376e"/>
<text x="412.8" y="473.1" textLength="93.1" lengthAdjust="spacingAndGlyphs">Other surgeons</text>
<path d="M535,465.1 l4.3,8.5 l-8.6,0 z" fill="#f28314"/>
<text x="553.8" y="473.1" textLength="105.3" lengthAdjust="spacingAndGlyphs">Selected surgeon</text>
</g>
</svg>
</body></html>
